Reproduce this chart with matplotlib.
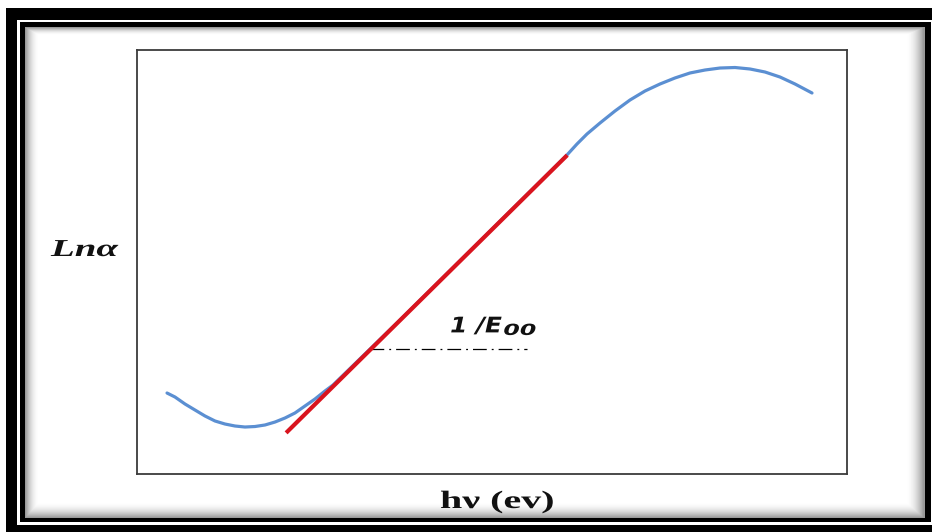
import numpy as np
import matplotlib
matplotlib.use("Agg")
import matplotlib.pyplot as plt
from matplotlib import patheffects
from matplotlib.transforms import Affine2D

# Absorption curve (ln alpha vs photon energy), arbitrary units
curve_hv = [0.423, 0.535, 0.676, 0.817, 0.958, 1.099, 1.239, 1.380, 1.521, 1.662,
            1.803, 1.944, 2.085, 2.225, 2.366, 2.507, 2.648, 2.761,
            3.704, 4.831,
            6.056, 6.197, 6.338, 6.521, 6.732, 6.944, 7.155, 7.366, 7.577, 7.789,
            8.000, 8.211, 8.423, 8.634, 8.845, 9.056, 9.268, 9.507]
curve_ln_alpha = [1.910, 1.816, 1.651, 1.509, 1.368, 1.250, 1.179, 1.132, 1.108, 1.120,
                  1.156, 1.226, 1.321, 1.439, 1.604, 1.769, 1.958, 2.099,
                  3.632, 5.495,
                  7.524, 7.783, 8.019, 8.278, 8.561, 8.821, 9.033, 9.198, 9.340, 9.458,
                  9.528, 9.575, 9.587, 9.552, 9.481, 9.363, 9.198, 8.986]

# Linear (Urbach) fit segment
fit_hv = [2.10, 6.06]
fit_ln_alpha = [0.97, 7.52]

# Horizontal dash-dot guide for the slope label
guide_hv = [3.28, 5.49]
guide_ln_alpha = [2.95, 2.95]

W, H = 932, 532


class Stretch(patheffects.AbstractPathEffect):
    """Draw text glyphs widened horizontally about their left edge."""

    def __init__(self, sx):
        super().__init__()
        self.sx = sx

    def draw_path(self, renderer, gc, tpath, affine, rgbFace=None):
        renderer.draw_path(gc, tpath, Affine2D().scale(self.sx, 1.0) + affine, rgbFace)


fig = plt.figure(figsize=(W / 100, H / 100), dpi=100)
fig.patch.set_facecolor("white")

# Double black frame with a soft inner shadow
yy, xx = np.mgrid[0:H, 0:W]
shade = np.zeros((H, W))
for dist, width in [(xx - 25, 14.0), (923 - xx, 18.0), (yy - 27, 8.0), (517 - yy, 16.0)]:
    shade = np.maximum(shade, np.clip(1 - dist / width, 0, 1))
inside = (xx >= 25) & (xx <= 924) & (yy >= 27) & (yy <= 517)
shade = np.where(inside, shade, 0.0)
img = 1 - 0.4 * shade ** 2.0
img[8:20, 6:] = 0
img[8:, 6:17] = 0
img[525:, 6:] = 0
img[22:27, 20:931] = 0
img[518:522, 20:931] = 0
img[22:522, 20:25] = 0
img[22:522, 925:931] = 0
fig.figimage(img, cmap="gray", vmin=0, vmax=1, origin="upper", zorder=-1)

ax = fig.add_axes([137 / W, 1 - 474 / H, 710 / W, 424 / H])
ax.set_xlim(0, 10)
ax.set_ylim(0, 10)
ax.set_xticks([])
ax.set_yticks([])
for sp in ax.spines.values():
    sp.set_color("#3c3c3c")
    sp.set_linewidth(1.3)

ax.plot(curve_hv, curve_ln_alpha, color="#5b8fd2", lw=2.3,
        solid_joinstyle="round", solid_capstyle="round", zorder=2)
ax.plot(fit_hv, fit_ln_alpha, color="#d9141e", lw=3.0, solid_capstyle="butt", zorder=3)
ax.plot(guide_hv, guide_ln_alpha, color="black", lw=0.9, ls=(0, (11, 4, 1.5, 4)), zorder=2)

sans_bi = dict(family="DejaVu Sans", weight="bold", style="italic", color="#111111")
ax.text(4.41, 3.34, "1 /E", fontsize=15.5, ha="left", va="baseline",
        path_effects=[Stretch(1.15)], **sans_bi)
ax.text(5.16, 3.28, "00", fontsize=11, ha="left", va="baseline",
        path_effects=[Stretch(1.55)], **sans_bi)

fig.text(51 / W, 1 - 256 / H, "Lnα", family="Liberation Serif", weight="bold",
         style="italic", fontsize=17.5, ha="left", va="baseline", color="#111111",
         path_effects=[Stretch(1.6)])
fig.text(440 / W, 1 - 508 / H, "hν (ev)", family="Liberation Serif", weight="bold",
         fontsize=18, ha="left", va="baseline", color="#111111",
         path_effects=[Stretch(1.6)])

fig.savefig("out.png", dpi=100, facecolor="white")
